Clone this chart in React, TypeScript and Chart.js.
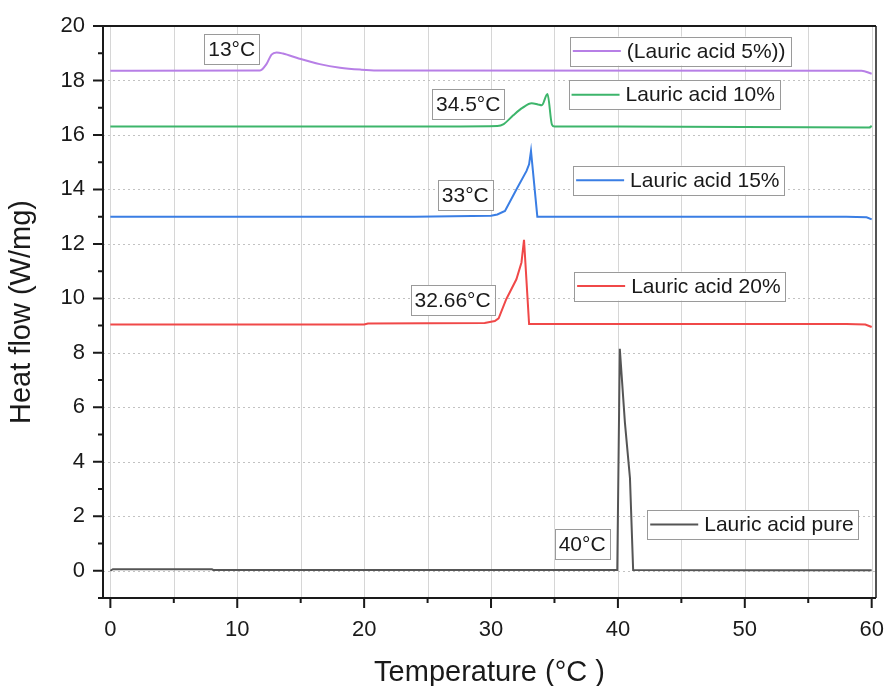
import React, { useEffect, useRef } from 'react';
import { Chart, registerables } from 'chart.js';

Chart.register(...registerables);

// ---------- data ----------
const seriesLabels = ['Lauric acid pure', 'Lauric acid 20%', 'Lauric acid 15%', 'Lauric acid 10%', '(Lauric acid 5%))'];
const seriesColors = ['#555555', '#f04848', '#3a7ee4', '#3db56b', '#b77fe6'];

const pureTemp = [0, 0.2, 8, 8.1, 39.95, 40.15, 40.55, 40.95, 41.2, 51.3, 60];
const pureFlow = [0, 0.06, 0.06, 0.03, 0.03, 8.15, 5.45, 3.4, 0.03, 0.02, 0.02];

const acid20Temp = [0, 20, 20.3, 29.5, 30.3, 30.6, 31.2, 32.0, 32.4, 32.6, 33.0, 58, 59.5, 60];
const acid20Flow = [9.04, 9.04, 9.08, 9.1, 9.17, 9.27, 9.97, 10.7, 11.32, 12.15, 9.06, 9.06, 9.04, 8.95];

const acid15Temp = [0, 24, 30, 30.5, 31.1, 32.0, 32.8, 33.0, 33.15, 33.65, 58, 59.6, 60];
const acid15Flow = [13.0, 13.0, 13.03, 13.08, 13.21, 14.0, 14.68, 14.92, 15.41, 13.0, 13.0, 12.98, 12.9];

const acid10Temp = [0, 23.5, 30.5, 31.0, 31.75, 32.5, 33.2, 33.7, 34.0, 34.45, 34.8, 35.0, 40, 59.8, 60];
const acid10Flow = [16.31, 16.31, 16.33, 16.4, 16.72, 17.0, 17.16, 17.12, 17.09, 17.5, 16.38, 16.31, 16.31, 16.27, 16.33];

const acid5Temp = [0, 11.8, 12.3, 12.7, 13.1, 13.6, 14.9, 16.5, 18.1, 19.7, 21, 59.2, 60];
const acid5Flow = [18.36, 18.37, 18.6, 18.95, 19.03, 18.99, 18.8, 18.6, 18.47, 18.4, 18.37, 18.36, 18.25];

const xTickValues = [0, 10, 20, 30, 40, 50, 60];
const yTickValues = [0, 2, 4, 6, 8, 10, 12, 14, 16, 18, 20];

const annotationTexts = ['13°C', '34.5°C', '33°C', '32.66°C', '40°C'];
const annotationTemps = [9.56, 28.2, 27.97, 26.97, 37.18];
const annotationFlows = [19.15, 17.13, 13.8, 9.94, 0.99];

// legend entries: series index, anchor (left edge temperature, centre heat flow)
const legendSeries = [4, 3, 2, 1, 0];
const legendTemps = [36.21, 36.11, 36.47, 36.55, 42.31];
const legendFlows = [19.08, 17.48, 14.34, 10.45, 1.7];

const temps = [pureTemp, acid20Temp, acid15Temp, acid10Temp, acid5Temp];
const flows = [pureFlow, acid20Flow, acid15Flow, acid10Flow, acid5Flow];

const FONT = '"Liberation Sans", Arial, Helvetica, sans-serif';
const TEXT = '#1a1a1a';

const decorPlugin = {
  id: 'decor',
  beforeDatasetsDraw(chart: any) {
    const { ctx, chartArea: a, scales } = chart;
    const x = scales.x;
    const y = scales.y;
    ctx.save();
    ctx.lineWidth = 1;
    ctx.strokeStyle = '#d6d6d6';
    for (let v = 0; v <= 60; v += 5) {
      const px = Math.round(x.getPixelForValue(v)) + 0.5;
      ctx.beginPath();
      ctx.moveTo(px, a.top);
      ctx.lineTo(px, a.bottom);
      ctx.stroke();
    }
    ctx.strokeStyle = '#c2c2c2';
    ctx.setLineDash([2, 3]);
    for (let v = 0; v < 20; v += 2) {
      const py = Math.round(y.getPixelForValue(v)) + 0.5;
      ctx.beginPath();
      ctx.moveTo(a.left, py);
      ctx.lineTo(a.right, py);
      ctx.stroke();
    }
    ctx.restore();
  },
  afterDatasetsDraw(chart: any) {
    const { ctx, chartArea: a, scales } = chart;
    const x = scales.x;
    const y = scales.y;
    ctx.save();
    ctx.strokeStyle = TEXT;
    ctx.lineCap = 'butt';
    // frame
    ctx.lineWidth = 2;
    ctx.beginPath();
    ctx.moveTo(a.left, a.top);
    ctx.lineTo(a.left, a.bottom);
    ctx.moveTo(a.left - 5, a.bottom);
    ctx.lineTo(a.right, a.bottom);
    ctx.moveTo(a.left, a.top);
    ctx.lineTo(a.right, a.top);
    ctx.stroke();
    ctx.lineWidth = 1.5;
    ctx.beginPath();
    ctx.moveTo(a.right, a.top);
    ctx.lineTo(a.right, a.bottom);
    ctx.stroke();
    // y ticks
    ctx.lineWidth = 2;
    ctx.beginPath();
    for (let v = -1; v <= 20; v += 1) {
      const py = y.getPixelForValue(v);
      const len = v % 2 === 0 ? 10 : 5;
      ctx.moveTo(a.left - len, py);
      ctx.lineTo(a.left, py);
    }
    // x ticks
    for (let v = 0; v <= 60; v += 5) {
      const px = x.getPixelForValue(v);
      const len = v % 10 === 0 ? 10 : 5;
      ctx.moveTo(px, a.bottom);
      ctx.lineTo(px, a.bottom + len);
    }
    ctx.stroke();

    // annotation boxes
    ctx.font = `21px ${FONT}`;
    ctx.textBaseline = 'middle';
    ctx.textAlign = 'center';
    annotationTexts.forEach((t, i) => {
      const cx = x.getPixelForValue(annotationTemps[i]);
      const cy = y.getPixelForValue(annotationFlows[i]);
      const w = ctx.measureText(t).width + 8;
      const h = 30;
      ctx.fillStyle = '#ffffff';
      ctx.fillRect(cx - w / 2, cy - h / 2, w, h);
      ctx.lineWidth = 1;
      ctx.strokeStyle = '#9a9a9a';
      ctx.strokeRect(Math.round(cx - w / 2) + 0.5, Math.round(cy - h / 2) + 0.5, Math.round(w), h);
      ctx.fillStyle = TEXT;
      ctx.fillText(t, cx, cy + 1);
    });

    // legend boxes
    ctx.textAlign = 'left';
    legendSeries.forEach((s, i) => {
      const lx = x.getPixelForValue(legendTemps[i]);
      const cy = y.getPixelForValue(legendFlows[i]);
      const label = seriesLabels[s];
      const tw = ctx.measureText(label).width;
      const w = 57 + tw + 5;
      const h = 29;
      ctx.fillStyle = '#ffffff';
      ctx.fillRect(lx, cy - h / 2, w, h);
      ctx.lineWidth = 1;
      ctx.strokeStyle = '#9a9a9a';
      ctx.strokeRect(Math.round(lx) + 0.5, Math.round(cy - h / 2) + 0.5, Math.round(w), h);
      ctx.strokeStyle = seriesColors[s];
      ctx.lineWidth = 2;
      ctx.beginPath();
      ctx.moveTo(lx + 3, cy);
      ctx.lineTo(lx + 51, cy);
      ctx.stroke();
      ctx.fillStyle = TEXT;
      ctx.fillText(label, lx + 57, cy + 1);
    });
    ctx.restore();
  },
};

export default function App() {
  const canvasRef = useRef<HTMLCanvasElement | null>(null);

  useEffect(() => {
    const canvas = canvasRef.current;
    if (!canvas) return;
    const datasets = seriesLabels.map((label, i) => ({
      label,
      data: temps[i].map((t, j) => ({ x: t, y: flows[i][j] })),
      borderColor: seriesColors[i],
      backgroundColor: seriesColors[i],
      borderWidth: 2,
      pointRadius: 0,
      fill: false,
      tension: 0,
      cubicInterpolationMode: i >= 3 ? 'monotone' : 'default',
    }));

    const chart = new Chart(canvas, {
      type: 'line',
      data: { datasets } as any,
      plugins: [decorPlugin],
      options: {
        animation: false,
        responsive: false,
        devicePixelRatio: 1,
        layout: { padding: { left: 0, top: 26, right: 11, bottom: 0 } },
        plugins: {
          legend: { display: false },
          tooltip: { enabled: false },
        },
        scales: {
          x: {
            type: 'linear',
            min: -0.58,
            max: 60.34,
            afterBuildTicks: (scale: any) => {
              scale.ticks = xTickValues.map((v) => ({ value: v }));
            },
            afterFit: (scale: any) => {
              scale.height = 88;
              scale.paddingLeft = 0;
              scale.paddingRight = 0;
            },
            grid: { display: true, drawOnChartArea: false, drawTicks: false },
            border: { display: false },
            ticks: {
              padding: 19,
              color: TEXT,
              font: { family: FONT, size: 22 },
              maxRotation: 0,
              autoSkip: false,
            },
            title: {
              display: true,
              text: 'Temperature (°C )',
              color: TEXT,
              font: { family: FONT, size: 29, lineHeight: 0.9 },
              padding: 0,
            },
          },
          y: {
            type: 'linear',
            min: -1,
            max: 20,
            afterBuildTicks: (scale: any) => {
              scale.ticks = yTickValues.map((v) => ({ value: v }));
            },
            afterFit: (scale: any) => {
              scale.width = 103;
              scale.paddingTop = 0;
              scale.paddingBottom = 0;
            },
            grid: { display: true, drawOnChartArea: false, drawTicks: false },
            border: { display: false },
            ticks: {
              padding: 18,
              color: TEXT,
              font: { family: FONT, size: 22 },
              autoSkip: false,
            },
            title: {
              display: true,
              text: 'Heat flow (W/mg)',
              color: TEXT,
              font: { family: FONT, size: 29, lineHeight: 0.9 },
              padding: { top: 9, bottom: 0 },
            },
          },
        },
      } as any,
    });
    return () => chart.destroy();
  }, []);

  return (
    <div style={{ position: 'absolute', left: 0, top: 0, width: 887, height: 686, background: '#ffffff' }}>
      <canvas ref={canvasRef} width={887} height={686} style={{ display: 'block' }} />
    </div>
  );
}
